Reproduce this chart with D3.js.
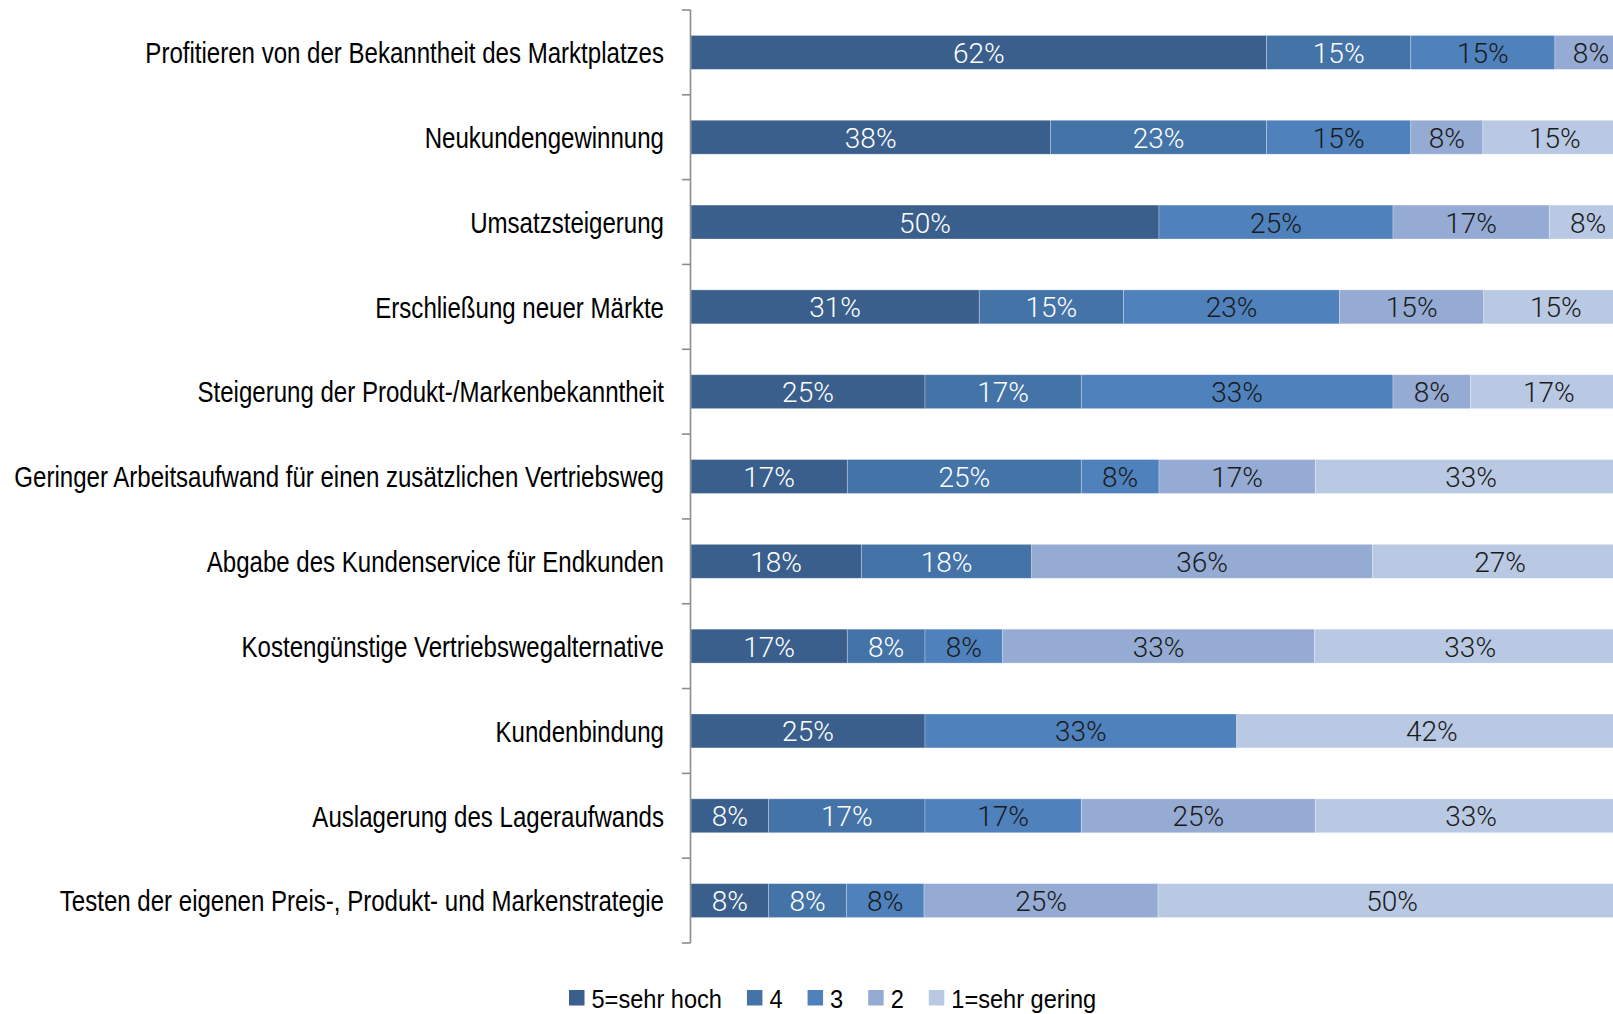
<!DOCTYPE html>
<html>
<head>
<meta charset="utf-8">
<script src="https://cdn.jsdelivr.net/npm/d3@7"></script>
<style>
  html, body { margin: 0; padding: 0; background: #fff; }
  svg { display: block; }
</style>
</head>
<body>
<div id="chart"></div>
<script>
// categories, top to bottom
const categories = [
  'Profitieren von der Bekanntheit des Marktplatzes',
  'Neukundengewinnung',
  'Umsatzsteigerung',
  'Erschließung neuer Märkte',
  'Steigerung der Produkt-/Markenbekanntheit',
  'Geringer Arbeitsaufwand für einen zusätzlichen Vertriebsweg',
  'Abgabe des Kundenservice für Endkunden',
  'Kostengünstige Vertriebswegalternative',
  'Kundenbindung',
  'Auslagerung des Lageraufwands',
  'Testen der eigenen Preis-, Produkt- und Markenstrategie'
];

// series names (legend order)
const seriesNames = ['5=sehr hoch', '4', '3', '2', '1=sehr gering'];

// shares in %, one array per series, same order as categories
const s5 = [61.5, 38.4, 50.0, 30.8, 25.0, 16.7, 18.2, 16.7, 25.0,  8.3,  8.3];
const s4 = [15.4, 23.1,  0.0, 15.4, 16.7, 25.0, 18.2,  8.3,  0.0, 16.7,  8.3];
const s3 = [15.4, 15.4, 25.0, 23.1, 33.3,  8.3,  0.0,  8.3, 33.3, 16.7,  8.3];
const s2 = [ 7.7,  7.7, 16.7, 15.4,  8.3, 16.7, 36.4, 33.3,  0.0, 25.0, 25.0];
const s1 = [ 0.0, 15.4,  8.3, 15.4, 16.7, 33.3, 27.3, 33.3, 41.7, 33.3, 50.0];

const colors    = ['#3b5f8d', '#4473a8', '#4f81bd', '#95abd3', '#b9c9e3'];
const textColor = ['#ffffff', '#ffffff', '#1a1a1a', '#1a1a1a', '#1a1a1a'];

const W = 1613, H = 1014;
// no narrow face installed -> squeeze Liberation Sans horizontally
const labelFont = '"Liberation Sans Narrow", "Arial Narrow", "Liberation Sans", Arial, sans-serif';
const narrow = 0.83;
const legendNarrow = 0.89;
const valueFont = '"Roboto Light", Roboto, "Open Sans", sans-serif';

const svg = d3.select('#chart').append('svg')
  .attr('width', W)
  .attr('height', H);

// rows
const rows = categories.map((c, i) => ({
  cat: c, '5=sehr hoch': s5[i], '4': s4[i], '3': s3[i], '2': s2[i], '1=sehr gering': s1[i]
}));
const stacked = d3.stack().keys(seriesNames)(rows);

// scales
const y = d3.scaleBand().domain(categories).range([10, 943]).padding(0);
const x = d3.scaleLinear().domain([0, 100]).range([691, 1627]);
const barH = y.bandwidth() * 0.4;
const barOff = (y.bandwidth() - barH) / 2;

// bars
const layers = svg.append('g').selectAll('g')
  .data(stacked)
  .enter().append('g')
    .attr('fill', (d, i) => colors[i]);

layers.selectAll('rect')
  .data(d => d)
  .enter().append('rect')
    .attr('x', d => x(d[0]))
    .attr('y', d => y(d.data.cat) + barOff)
    .attr('width', d => Math.max(0, x(d[1]) - x(d[0])))
    .attr('height', barH)
    .attr('stroke', 'rgba(255,255,255,0.35)')
    .attr('stroke-width', 0.8);

// value labels
stacked.forEach((layer, si) => {
  svg.append('g').selectAll('text')
    .data(layer.filter(d => d[1] - d[0] > 0))
    .enter().append('text')
      .attr('x', d => (x(d[0]) + x(d[1])) / 2)
      .attr('y', d => y(d.data.cat) + y.bandwidth() / 2 + 1)
      .attr('text-anchor', 'middle')
      .attr('dominant-baseline', 'central')
      .style('font-family', valueFont)
      .style('font-weight', 300)
      .style('font-size', '28px')
      .attr('fill', textColor[si])
      .text(d => Math.round(d[1] - d[0]) + '%');
});

// y axis: line + ticks at band edges
const axisG = svg.append('g').attr('stroke', '#8c8c8c').attr('stroke-width', 1.6);
const r = y.range();
axisG.append('line')
  .attr('x1', x(0) - 0.5).attr('x2', x(0) - 0.5)
  .attr('y1', r[0]).attr('y2', r[1]);
const tickYs = categories.map(c => y(c)).concat([r[1]]);
axisG.selectAll('.tick')
  .data(tickYs)
  .enter().append('line')
    .attr('x1', x(0) - 9).attr('x2', x(0) - 0.5)
    .attr('y1', d => d).attr('y2', d => d);

// category labels
svg.append('g').selectAll('text')
  .data(categories)
  .enter().append('text')
    .attr('transform', d => `translate(664,${y(d) + y.bandwidth() / 2 + 1}) scale(${narrow},1)`)
    .attr('text-anchor', 'end')
    .attr('dominant-baseline', 'central')
    .style('font-family', labelFont)
    .style('font-size', '29px')
    .attr('fill', '#000')
    .text(d => d);

// legend
const legend = svg.append('g');
const items = legend.selectAll('g')
  .data(seriesNames)
  .enter().append('g');
items.append('rect')
  .attr('width', 15.5).attr('height', 15.5)
  .attr('y', 990)
  .attr('fill', (d, i) => colors[i]);
items.append('text')
  .attr('transform', `translate(22.5,998.5) scale(${legendNarrow},1)`)
  .attr('dominant-baseline', 'central')
  .style('font-family', labelFont)
  .style('font-size', '26.5px')
  .attr('fill', '#000')
  .text(d => d);

let cx = 569;
const pos = [];
items.each(function () {
  pos.push(cx);
  cx += 22.5 + this.querySelector('text').getComputedTextLength() * legendNarrow + 25;
});
items.attr('transform', (d, i) => `translate(${pos[i]},0)`);
</script>
</body>
</html>
